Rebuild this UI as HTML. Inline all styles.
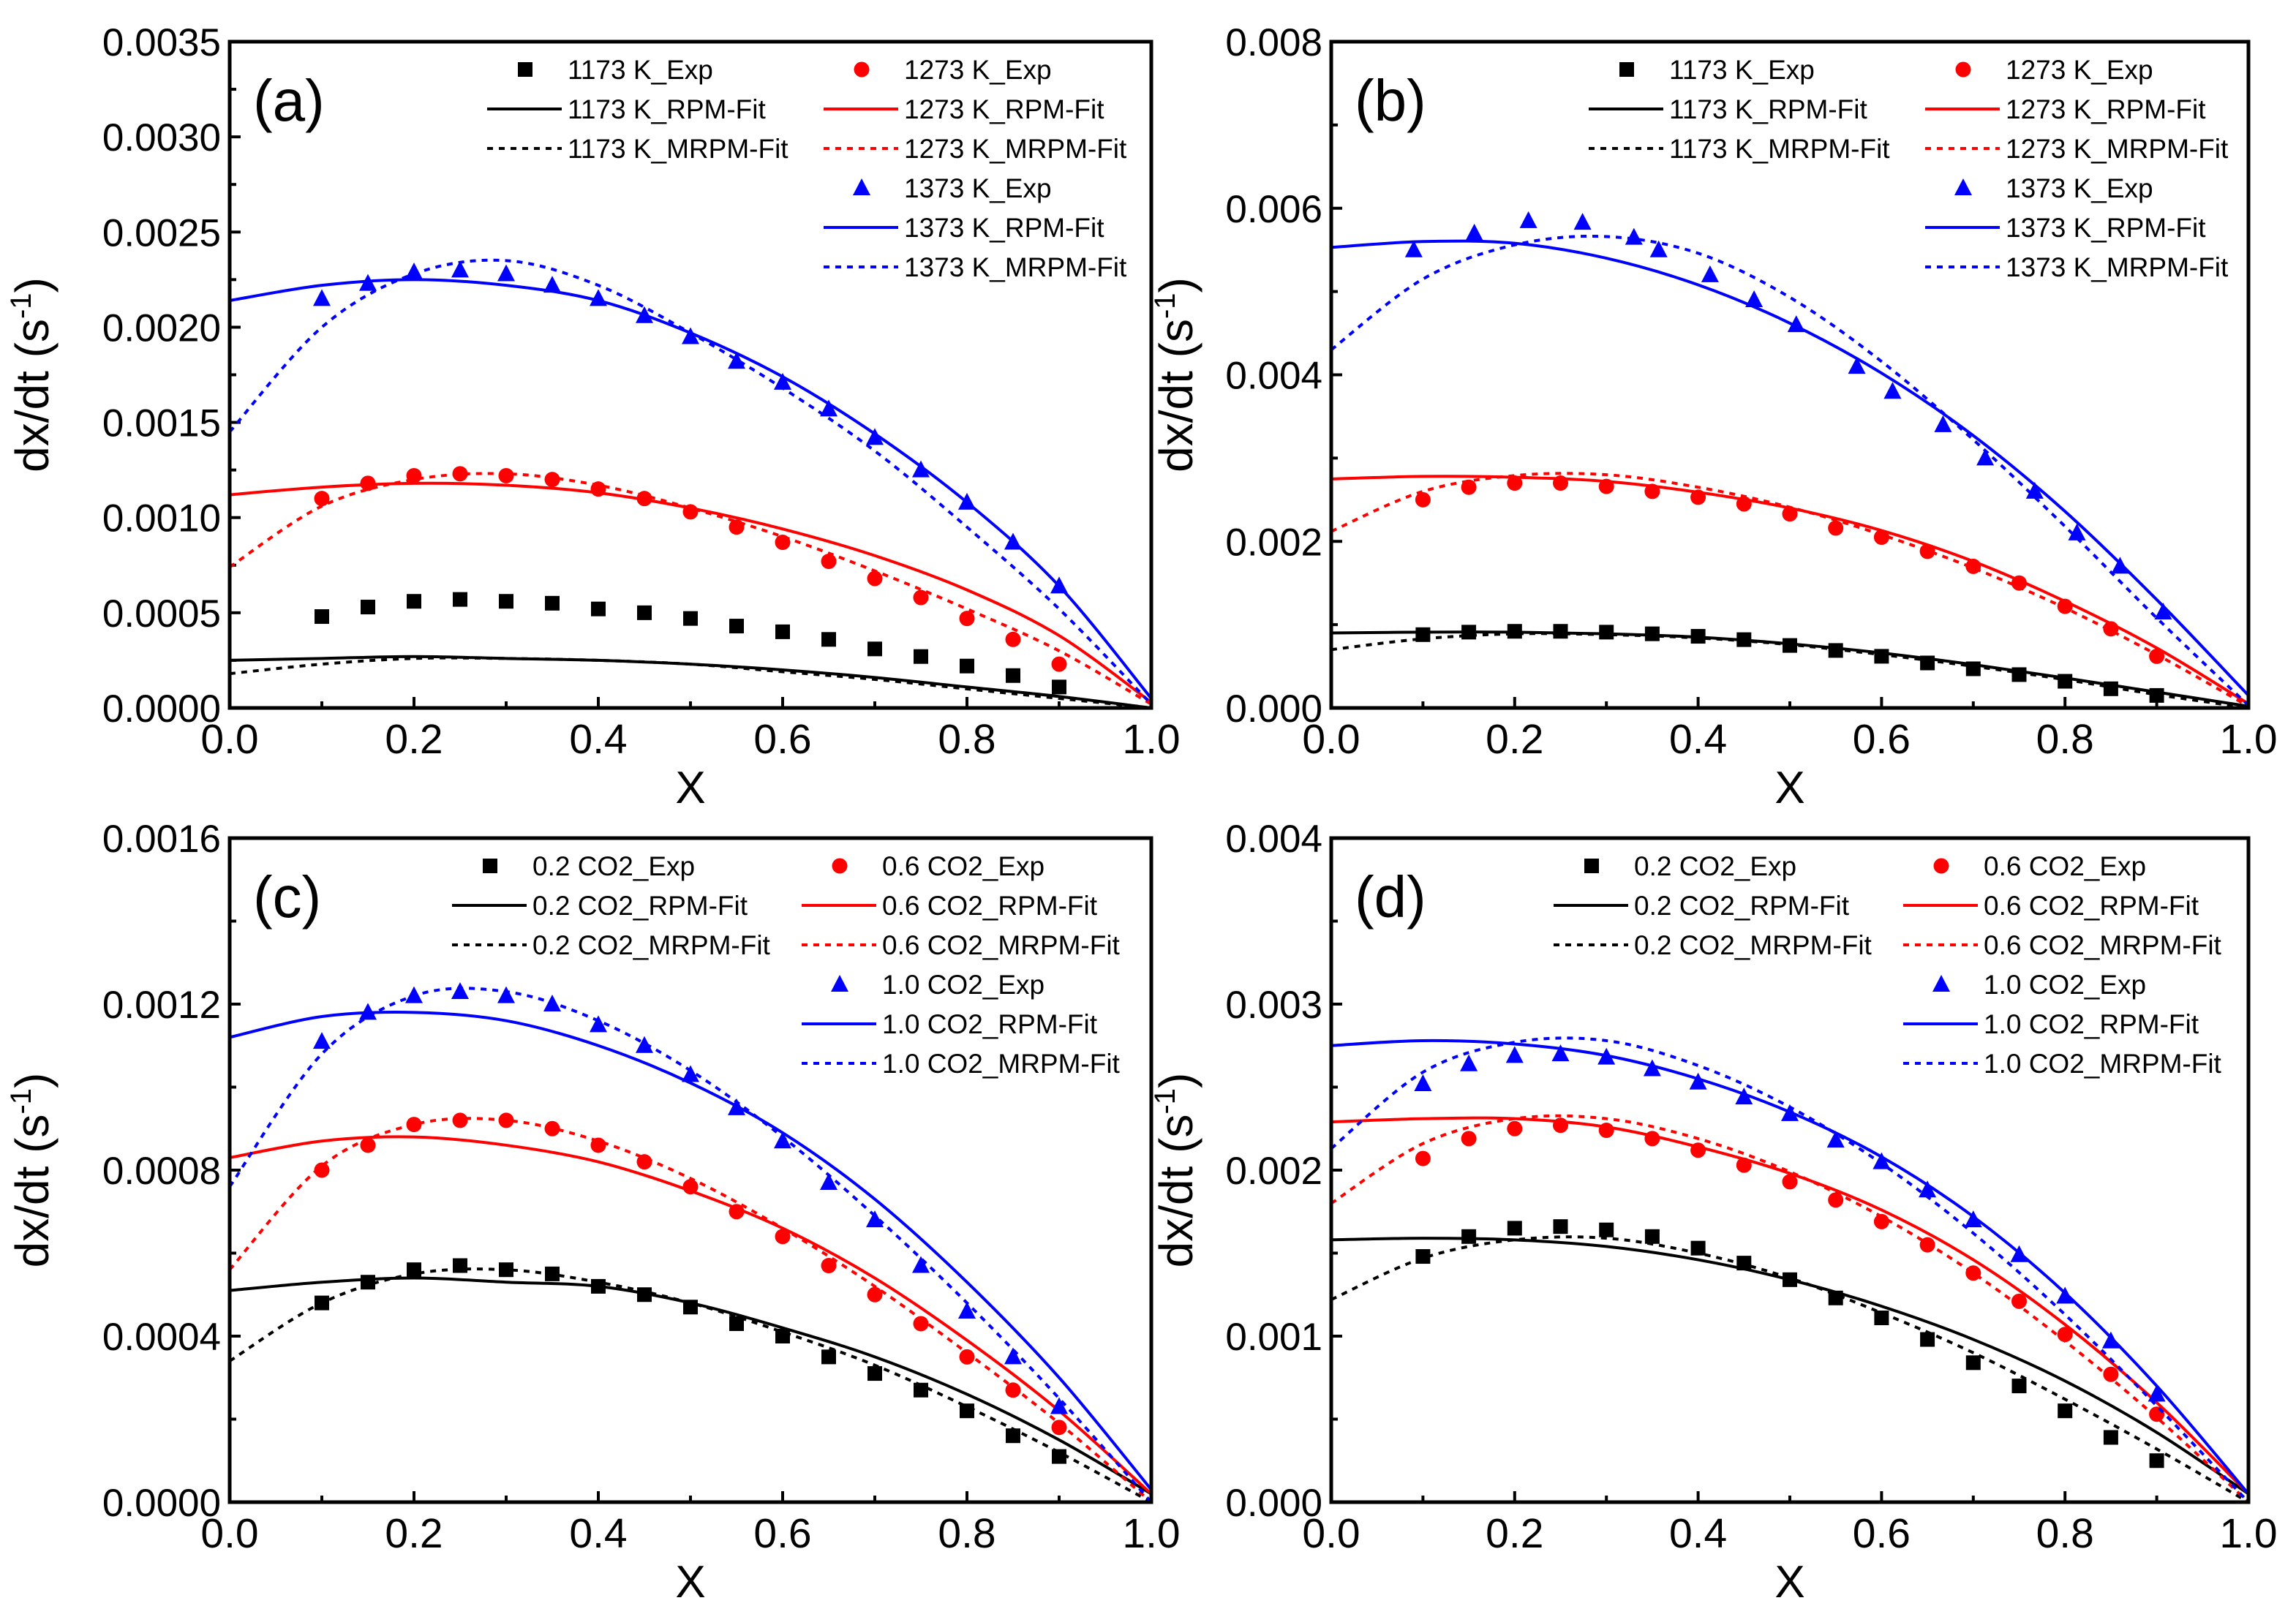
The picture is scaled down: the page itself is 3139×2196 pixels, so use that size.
<!DOCTYPE html>
<html><head><meta charset="utf-8">
<style>
html,body{margin:0;padding:0;background:#fff;}
svg{display:block;font-family:"Liberation Sans",sans-serif;}
</style></head>
<body>
<svg id="chart" width="3139" height="2196" viewBox="0 0 3139 2196" xmlns="http://www.w3.org/2000/svg"></svg>
<script>
// ---------- data ----------
const fitX = [0,0.1,0.2,0.3,0.4,0.5,0.6,0.7,0.8,0.9,1.0];
const expX = [0.1,0.15,0.2,0.25,0.3,0.35,0.4,0.45,0.5,0.55,0.6,0.65,0.7,0.75,0.8,0.85,0.9];
const expXbBlue = [0.09,0.156,0.215,0.274,0.33,0.357,0.413,0.461,0.507,0.573,0.612,0.667,0.713,0.767,0.813,0.86,0.907];

// panel a
const aBlackExp=[0.00048,0.00053,0.00056,0.00057,0.00056,0.00055,0.00052,0.00050,0.00047,0.00043,0.00040,0.00036,0.00031,0.00027,0.00022,0.00017,0.00011];
const aRedExp=[0.0011,0.00118,0.00122,0.00123,0.00122,0.00120,0.00115,0.00110,0.00103,0.00095,0.00087,0.00077,0.00068,0.00058,0.00047,0.00036,0.00023];
const aBlueExp=[0.00215,0.00223,0.00229,0.00230,0.00228,0.00222,0.00215,0.00206,0.00195,0.00182,0.00171,0.00157,0.00142,0.00125,0.00108,0.00087,0.00064];
const aBlackRPM=[0.00025,0.00026,0.00027,0.00026,0.00025,0.00023,0.00020,0.00016,0.00011,0.00006,0];
const aBlackMRPM=[0.00018,0.00023,0.00026,0.00026,0.00025,0.00023,0.00019,0.00015,0.00010,0.00005,0];
const aRedRPM=[0.00112,0.00116,0.00118,0.00117,0.00113,0.00105,0.00094,0.00080,0.00062,0.00038,0.00003];
const aRedMRPM=[0.00074,0.00106,0.00120,0.00123,0.00117,0.00105,0.00090,0.00072,0.00052,0.00030,0.00002];
const aBlueRPM=[0.00214,0.00222,0.00225,0.00222,0.00214,0.00197,0.00174,0.00144,0.00108,0.00064,0.00005];
const aBlueMRPM=[0.00145,0.00200,0.00228,0.00235,0.00222,0.00197,0.00168,0.00135,0.00095,0.00052,0.00002];
// panel b
const bBlackExp=[0.00088,0.00091,0.00092,0.00092,0.00091,0.00089,0.00086,0.00082,0.00075,0.00069,0.00062,0.00054,0.00047,0.0004,0.00032,0.00023,0.00015];
const bRedExp=[0.0025,0.00265,0.0027,0.0027,0.00266,0.0026,0.00253,0.00245,0.00233,0.00216,0.00205,0.00188,0.0017,0.0015,0.00122,0.00095,0.00062];
const bBlueExp=[0.0055,0.0057,0.00585,0.00583,0.00565,0.0055,0.0052,0.0049,0.0046,0.0041,0.0038,0.0034,0.0030,0.0026,0.0021,0.0017,0.00115];
const bBlackRPM=[0.0009,0.00091,0.00091,0.00089,0.00085,0.00077,0.00066,0.00052,0.00036,0.00019,0.00002];
const bBlackMRPM=[0.0007,0.00083,0.00089,0.00088,0.00084,0.00076,0.00064,0.0005,0.00034,0.00016,0];
const bRedRPM=[0.00275,0.00278,0.00277,0.00272,0.00259,0.0024,0.00213,0.00176,0.00128,0.00072,0.00005];
const bRedMRPM=[0.00212,0.0026,0.00279,0.0028,0.00265,0.00241,0.00208,0.00168,0.0012,0.00064,0.00002];
const bBlueRPM=[0.00553,0.0056,0.00558,0.0054,0.00508,0.00462,0.00402,0.00327,0.00236,0.0013,0.00015];
const bBlueMRPM=[0.0043,0.00515,0.00556,0.00566,0.00546,0.00493,0.00416,0.00322,0.00218,0.00108,0.00003];
// panel c
const cBlackExp=[0.00048,0.00053,0.00056,0.00057,0.00056,0.00055,0.00052,0.0005,0.00047,0.00043,0.0004,0.00035,0.00031,0.00027,0.00022,0.00016,0.00011];
const cRedExp=[0.0008,0.00086,0.00091,0.00092,0.00092,0.0009,0.00086,0.00082,0.00076,0.0007,0.00064,0.00057,0.0005,0.00043,0.00035,0.00027,0.00018];
const cBlueExp=[0.00111,0.00118,0.00122,0.00123,0.00122,0.0012,0.00115,0.0011,0.00103,0.00095,0.00087,0.00077,0.00068,0.00057,0.00046,0.00035,0.00023];
const cBlackRPM=[0.00051,0.00053,0.00054,0.00053,0.00052,0.00048,0.00042,0.00035,0.00026,0.00015,0.00002];
const cBlackMRPM=[0.00034,0.00048,0.00055,0.00056,0.00053,0.00048,0.00041,0.00033,0.00023,0.00012,0];
const cRedRPM=[0.00083,0.00087,0.00088,0.00086,0.00082,0.00075,0.00066,0.00054,0.00039,0.00022,0.00002];
const cRedMRPM=[0.00056,0.00081,0.00091,0.00092,0.00087,0.00078,0.00066,0.00052,0.00036,0.00019,0];
const cBlueRPM=[0.00112,0.00117,0.00118,0.00116,0.0011,0.00101,0.00089,0.00073,0.00053,0.0003,0.00003];
const cBlueMRPM=[0.00076,0.00108,0.00122,0.00123,0.00116,0.00104,0.00088,0.00069,0.00048,0.00025,0];
// panel d
const dBlackExp=[0.00148,0.0016,0.00165,0.00166,0.00164,0.0016,0.00153,0.00144,0.00134,0.00123,0.00111,0.00098,0.00084,0.0007,0.00055,0.00039,0.00025];
const dRedExp=[0.00207,0.00219,0.00225,0.00227,0.00224,0.00219,0.00212,0.00203,0.00193,0.00182,0.00169,0.00155,0.00138,0.00121,0.00101,0.00077,0.00053];
const dBlueExp=[0.00252,0.00264,0.00269,0.0027,0.00268,0.00261,0.00253,0.00244,0.00234,0.00218,0.00205,0.00188,0.0017,0.00149,0.00124,0.00097,0.00065];
const dBlackRPM=[0.00158,0.00159,0.00158,0.00154,0.00146,0.00134,0.00118,0.00098,0.00073,0.00042,0.00005];
const dBlackMRPM=[0.00122,0.00147,0.00158,0.00159,0.0015,0.00135,0.00114,0.0009,0.00062,0.00032,0];
const dRedRPM=[0.00229,0.00231,0.00231,0.00226,0.00214,0.00198,0.00176,0.00146,0.00107,0.0006,0.00005];
const dRedMRPM=[0.0018,0.00216,0.00231,0.00231,0.00219,0.00199,0.00172,0.00138,0.00097,0.00051,0];
const dBlueRPM=[0.00275,0.00278,0.00276,0.00269,0.00255,0.00235,0.00208,0.00172,0.00126,0.0007,0.00005];
const dBlueMRPM=[0.00213,0.00259,0.00277,0.00278,0.00263,0.00238,0.00204,0.00162,0.00113,0.00058,0];

const xTicks=["0.0","0.2","0.4","0.6","0.8","1.0"];
const aYTicks=["0.0000","0.0005","0.0010","0.0015","0.0020","0.0025","0.0030","0.0035"];
const bYTicks=["0.000","0.002","0.004","0.006","0.008"];
const cYTicks=["0.0000","0.0004","0.0008","0.0012","0.0016"];
const dYTicks=["0.000","0.001","0.002","0.003","0.004"];
const abLabels=["1173 K","1273 K","1373 K"];
const cdLabels=["0.2 CO2","0.6 CO2","1.0 CO2"];

const NS="http://www.w3.org/2000/svg";
const svg=document.getElementById('chart');
function mk(tag,attrs,parent){const e=document.createElementNS(NS,tag);for(const k in attrs)e.setAttribute(k,attrs[k]);(parent||svg).appendChild(e);return e;}

function smoothPath(pts){
  let d=`M${pts[0][0]},${pts[0][1]}`;
  for(let i=0;i<pts.length-1;i++){
    const p0=pts[i-1]||pts[i],p1=pts[i],p2=pts[i+1],p3=pts[i+2]||p2;
    const c1=[p1[0]+(p2[0]-p0[0])/6,p1[1]+(p2[1]-p0[1])/6];
    const c2=[p2[0]-(p3[0]-p1[0])/6,p2[1]-(p3[1]-p1[1])/6];
    d+=` C${c1[0]},${c1[1]} ${c2[0]},${c2[1]} ${p2[0]},${p2[1]}`;
  }
  return d;
}

const colors=["#000000","#ff0000","#0000ff"];
const shapes=["square","circle","triangle"];

function marker(g,shape,x,y,color){
  let e;
  if(shape==="square") e=mk('rect',{x:x-10,y:y-10,width:20,height:20,fill:color},g);
  else if(shape==="circle") e=mk('circle',{cx:x,cy:y,r:10.5,fill:color},g);
  else e=mk('polygon',{points:`${x},${y-13} ${x-12},${y+10} ${x+12},${y+10}`,fill:color},g);
  return e;
}

function panel(p){
  const {L,R,T,B,ymax,yTicks,tag,labels,legOff,exp,expXs,rpm,mrpm,name,ytOff}=p;
  const g=mk('g',{});
  
  
  const sx=v=>L+(R-L)*v;
  const sy=v=>B-(B-T)*v/ymax;
  const nY=yTicks.length-1;
  for(let i=0;i<=nY;i++){
    const v=ymax*i/nY,y=sy(v);
    mk('line',{x1:L,x2:L+15,y1:y,y2:y,stroke:'#000','stroke-width':4},g);
    if(i<nY){const ym=sy(v+ymax/nY/2);mk('line',{x1:L,x2:L+9,y1:ym,y2:ym,stroke:'#000','stroke-width':4},g);}
    const t=mk('text',{x:L-12,y:y+19,'text-anchor':'end','font-size':53},g);
    t.textContent=yTicks[i];
    
    
  }
  for(let i=0;i<xTicks.length;i++){
    const v=i*0.2,x=sx(v);
    mk('line',{x1:x,x2:x,y1:B,y2:B-15,stroke:'#000','stroke-width':4},g);
    if(i<xTicks.length-1){const xm=sx(v+0.1);mk('line',{x1:xm,x2:xm,y1:B,y2:B-9,stroke:'#000','stroke-width':4},g);}
    const t=mk('text',{x:x,y:B+62,'text-anchor':'middle','font-size':57},g);
    t.textContent=xTicks[i];
    
    
  }
  const xt=mk('text',{x:(L+R)/2,y:B+130,'text-anchor':'middle','font-size':62},g);
  xt.textContent='X';
  
  
  const cy=(T+B)/2, lx=L-ytOff;
  const yt=mk('text',{x:lx,y:cy,'text-anchor':'middle','font-size':64,transform:`rotate(-90 ${lx} ${cy})`},g);
  yt.innerHTML='dx/dt (s<tspan dy="-24" font-size="40">-1</tspan><tspan dy="24">)</tspan>';
  
  
  const clip='clip-'+name;
  const cp=mk('clipPath',{id:clip},g);mk('rect',{x:L,y:T,width:R-L,height:B-T},cp);
  for(let s=0;s<3;s++){
    const pr=fitX.map((x,i)=>[sx(x),sy(rpm[s][i])]);
    const l1=mk('path',{d:smoothPath(pr),fill:'none',stroke:colors[s],'stroke-width':4,'clip-path':`url(#${clip})`},g);
    
    
    const pm=fitX.map((x,i)=>[sx(x),sy(mrpm[s][i])]);
    const l2=mk('path',{d:smoothPath(pm),fill:'none',stroke:colors[s],'stroke-width':4,'stroke-dasharray':'8 8','clip-path':`url(#${clip})`},g);
    
    
    const xs=expXs[s];
    exp[s].forEach((v,i)=>{
      const m=marker(g,shapes[s],sx(xs[i]),sy(v),colors[s]);
      
      
    });
  }
  const fr=mk('rect',{x:L,y:T,width:R-L,height:B-T,fill:'none',stroke:'#000','stroke-width':5},g);
  
  
  const tg=mk('text',{x:L+32,y:T+108,'font-size':80},g);
  tg.textContent=tag;
  
  
  const rows=[38,92,146,200,254,308];
  const cols=[L+legOff[0],L+legOff[1]];
  const suffix=["_Exp","_RPM-Fit","_MRPM-Fit"];
  for(let s=0;s<3;s++){
    const cx=s<2?cols[s]:cols[1];
    for(let k=0;k<3;k++){
      const y=T+rows[s<2?k:3+k];
      const lg=mk('g',{},g);
      
      
      if(k===0) marker(lg,shapes[s],cx-52,y,colors[s]);
      else mk('line',{x1:cx-104,x2:cx-2,y1:y,y2:y,stroke:colors[s],'stroke-width':4,'stroke-dasharray':k===2?'8 8':'none'},lg);
      const t=mk('text',{x:cx+6,y:y+13,'font-size':37},lg);
      t.textContent=labels[s]+suffix[k];
    }
  }
}

panel({name:'a',L:314,R:1574,T:57,B:968,ymax:0.0035,yTicks:aYTicks,tag:'(a)',labels:abLabels,legOff:[456,916],ytOff:248,
  exp:[aBlackExp,aRedExp,aBlueExp],expXs:[expX,expX,expX],rpm:[aBlackRPM,aRedRPM,aBlueRPM],mrpm:[aBlackMRPM,aRedMRPM,aBlueMRPM]});
panel({name:'b',L:1820,R:3074,T:57,B:968,ymax:0.008,yTicks:bYTicks,tag:'(b)',labels:abLabels,legOff:[456,916],ytOff:190,
  exp:[bBlackExp,bRedExp,bBlueExp],expXs:[expX,expX,expXbBlue],rpm:[bBlackRPM,bRedRPM,bBlueRPM],mrpm:[bBlackMRPM,bRedMRPM,bBlueMRPM]});
panel({name:'c',L:314,R:1574,T:1146,B:2054,ymax:0.0016,yTicks:cYTicks,tag:'(c)',labels:cdLabels,legOff:[408,886],ytOff:248,
  exp:[cBlackExp,cRedExp,cBlueExp],expXs:[expX,expX,expX],rpm:[cBlackRPM,cRedRPM,cBlueRPM],mrpm:[cBlackMRPM,cRedMRPM,cBlueMRPM]});
panel({name:'d',L:1820,R:3074,T:1146,B:2054,ymax:0.004,yTicks:dYTicks,tag:'(d)',labels:cdLabels,legOff:[408,886],ytOff:190,
  exp:[dBlackExp,dRedExp,dBlueExp],expXs:[expX,expX,expX],rpm:[dBlackRPM,dRedRPM,dBlueRPM],mrpm:[dBlackMRPM,dRedMRPM,dBlueMRPM]});
</script>
</body></html>
